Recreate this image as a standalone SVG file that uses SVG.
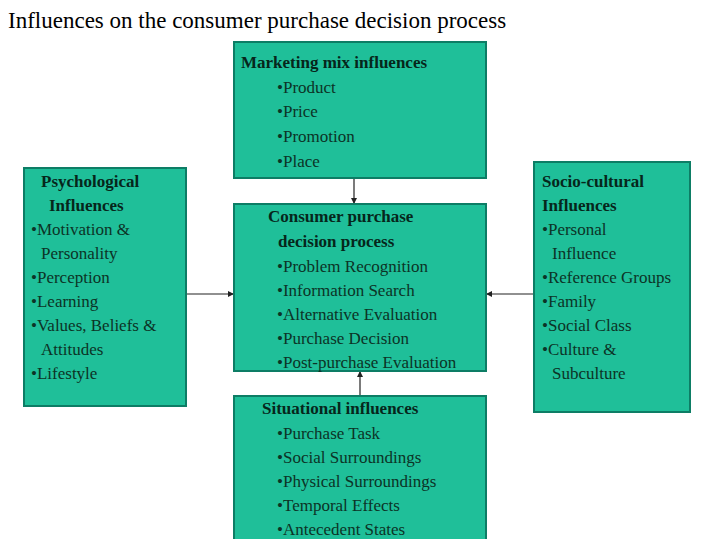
<svg xmlns="http://www.w3.org/2000/svg" width="720" height="539" viewBox="0 0 720 539">
<style>
.box{fill:#1fbf99;stroke:#0d7d65;stroke-width:2}
text{font-family:"Liberation Serif",serif;font-size:17px;fill:#0c3326}
.h{font-weight:bold;fill:#06261b}
.c{stroke:#222;stroke-width:1.2;fill:none;marker-end:url(#a)}
</style>
<defs><marker id="a" viewBox="0 0 10 10" refX="10" refY="5" markerWidth="5" markerHeight="5" orient="auto"><path d="M0,0L10,5L0,10z" fill="#222"/></marker></defs>
<rect width="720" height="539" fill="#fff"/>
<text x="8" y="28" style="font-size:23px;fill:#000">Influences on the consumer purchase decision process</text>
<g id="connectors">
<line class="c" x1="354" y1="178" x2="354" y2="204"/>
<line class="c" x1="186" y1="294" x2="234" y2="294"/>
<line class="c" x1="534" y1="294" x2="486" y2="294"/>
<line class="c" x1="360" y1="396" x2="360" y2="371"/>
</g>
<g id="marketing">
<rect class="box" x="234" y="42" width="252" height="136"/>
<text class="h" x="241" y="68">Marketing mix influences</text>
<text x="277" y="93">•Product</text>
<text x="277" y="117">•Price</text>
<text x="277" y="142">•Promotion</text>
<text x="277" y="167">•Place</text>
</g>
<g id="psychological">
<rect class="box" x="24" y="168" width="162" height="238"/>
<text class="h" x="41" y="187">Psychological</text>
<text class="h" x="49" y="211">Influences</text>
<text x="31" y="235">•Motivation &amp;</text>
<text x="41" y="259">Personality</text>
<text x="31" y="283">•Perception</text>
<text x="31" y="307">•Learning</text>
<text x="31" y="331">•Values, Beliefs &amp;</text>
<text x="41" y="355">Attitudes</text>
<text x="31" y="379">•Lifestyle</text>
</g>
<g id="center">
<rect class="box" x="234" y="204" width="252" height="167"/>
<text class="h" x="268" y="222">Consumer purchase</text>
<text class="h" x="278" y="247">decision process</text>
<text x="277" y="272">•Problem Recognition</text>
<text x="277" y="296">•Information Search</text>
<text x="277" y="320">•Alternative Evaluation</text>
<text x="277" y="344">•Purchase Decision</text>
<text x="277" y="368">•Post-purchase Evaluation</text>
</g>
<g id="sociocultural">
<rect class="box" x="534" y="162" width="156" height="250"/>
<text class="h" x="542" y="187">Socio-cultural</text>
<text class="h" x="542" y="211">Influences</text>
<text x="542" y="235">•Personal</text>
<text x="552" y="259">Influence</text>
<text x="542" y="283">•Reference Groups</text>
<text x="542" y="307">•Family</text>
<text x="542" y="331">•Social Class</text>
<text x="542" y="355">•Culture &amp;</text>
<text x="552" y="379">Subculture</text>
</g>
<g id="situational">
<rect class="box" x="234" y="396" width="252" height="150"/>
<text class="h" x="262" y="414">Situational influences</text>
<text x="277" y="439">•Purchase Task</text>
<text x="277" y="463">•Social Surroundings</text>
<text x="277" y="487">•Physical Surroundings</text>
<text x="277" y="511">•Temporal Effects</text>
<text x="277" y="535">•Antecedent States</text>
</g>
</svg>
